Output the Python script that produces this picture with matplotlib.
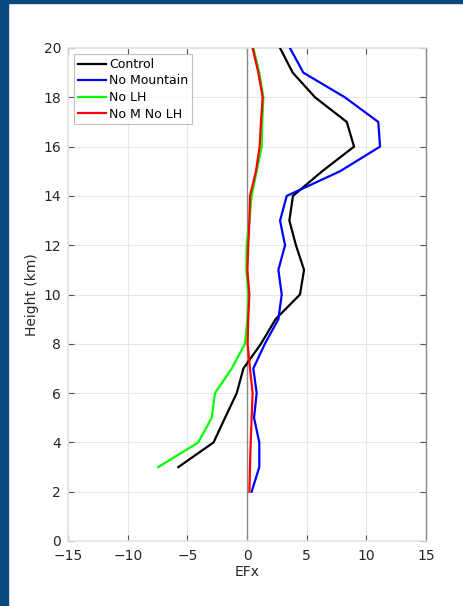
import matplotlib
matplotlib.use("Agg")
import matplotlib.pyplot as plt
from matplotlib.patches import Rectangle

height_control = [3, 4, 5, 6, 7, 8, 9, 10, 11, 12, 13, 14, 15, 16, 17, 18, 19, 20]
efx_control = [-5.75, -2.8, -1.84, -0.86, -0.3, 1.17, 2.4, 4.44, 4.78, 4.1, 3.55, 3.85, 6.3, 8.97, 8.36, 5.7, 3.83, 2.77]

height_nomtn = [2, 3, 4, 5, 6, 7, 8, 9, 10, 11, 12, 13, 14, 15, 16, 17, 18, 19, 20]
efx_nomtn = [0.39, 1.03, 1.03, 0.59, 0.81, 0.53, 1.5, 2.63, 2.91, 2.63, 3.19, 2.77, 3.33, 7.8, 11.15, 11.0, 8.2, 4.72, 3.6]

height_nolh = [3, 4, 5, 6, 7, 8, 9, 10, 11, 12, 13, 14, 15, 16, 17, 18, 19, 20]
efx_nolh = [-7.43, -4.08, -2.96, -2.68, -1.28, -0.17, 0.03, 0.11, -0.05, -0.03, 0.2, 0.39, 0.81, 1.23, 1.28, 1.37, 1.03, 0.53]

height_nomnolh = [2, 3, 4, 5, 6, 7, 8, 9, 10, 11, 12, 13, 14, 15, 16, 17, 18, 19, 20]
efx_nomnolh = [0.2, 0.25, 0.31, 0.39, 0.47, 0.25, 0.05, 0.1, 0.2, 0.03, 0.11, 0.2, 0.25, 0.75, 1.06, 1.17, 1.31, 0.95, 0.47]

labels = ["Control", "No Mountain", "No LH", "No M No LH"]
colors = ["#000000", "#0000ff", "#00ff00", "#ff0000"]

fig = plt.figure(figsize=(4.63, 6.06), dpi=100)
fig.patch.set_facecolor("white")
# dark blue frame on left and top
border = "#0a4a80"
fig.patches.append(Rectangle((0, 0), 8 / 463, 1, transform=fig.transFigure, color=border, zorder=0))
fig.patches.append(Rectangle((0, 1 - 2.5 / 606), 1, 2.5 / 606, transform=fig.transFigure, color=border, zorder=0))

ax = fig.add_axes([68 / 463, 1 - 541 / 606, (426 - 68) / 463, (541 - 48) / 606])

ax.axvline(0, color="#8a8a8a", lw=1.0, zorder=1)
series = [(efx_control, height_control), (efx_nomtn, height_nomtn),
          (efx_nolh, height_nolh), (efx_nomnolh, height_nomnolh)]
for (x, y), c, lab in zip(series, colors, labels):
    ax.plot(x, y, color=c, lw=1.6, label=lab, zorder=3)

ax.set_xlim(-15, 15)
ax.set_ylim(0, 20)
ax.set_xticks(range(-15, 16, 5))
ax.set_yticks(range(0, 21, 2))
ax.set_xticklabels(["\u221215", "\u221210", "\u22125", "0", "5", "10", "15"])
ax.grid(True, color="#e6e6e6", lw=0.8)
ax.set_axisbelow(True)
ax.tick_params(direction="in", length=4, width=0.8, colors="#555555", labelcolor="#262626",
               labelsize=10, top=True, right=True)
ax.tick_params(axis="x", pad=6)
ax.tick_params(axis="y", pad=5)
for side in ["left", "bottom", "top"]:
    ax.spines[side].set_color("#e3e3e3")
    ax.spines[side].set_linewidth(1.2)
ax.spines["right"].set_color("#8a8a8a")
ax.spines["right"].set_linewidth(1.0)

ax.set_xlabel("EFx", fontsize=10, color="#262626", labelpad=1)
ax.set_ylabel("Height (km)", fontsize=10, color="#262626", labelpad=3)

leg = ax.legend(loc="upper left", fontsize=9, frameon=True, fancybox=False,
                handlelength=2.2, handletextpad=0.3, borderpad=0.3, labelspacing=0.28,
                borderaxespad=0.5)
leg.get_frame().set_edgecolor("#b0b0b0")
leg.get_frame().set_linewidth(0.8)

fig.savefig("out.png", dpi=100)
